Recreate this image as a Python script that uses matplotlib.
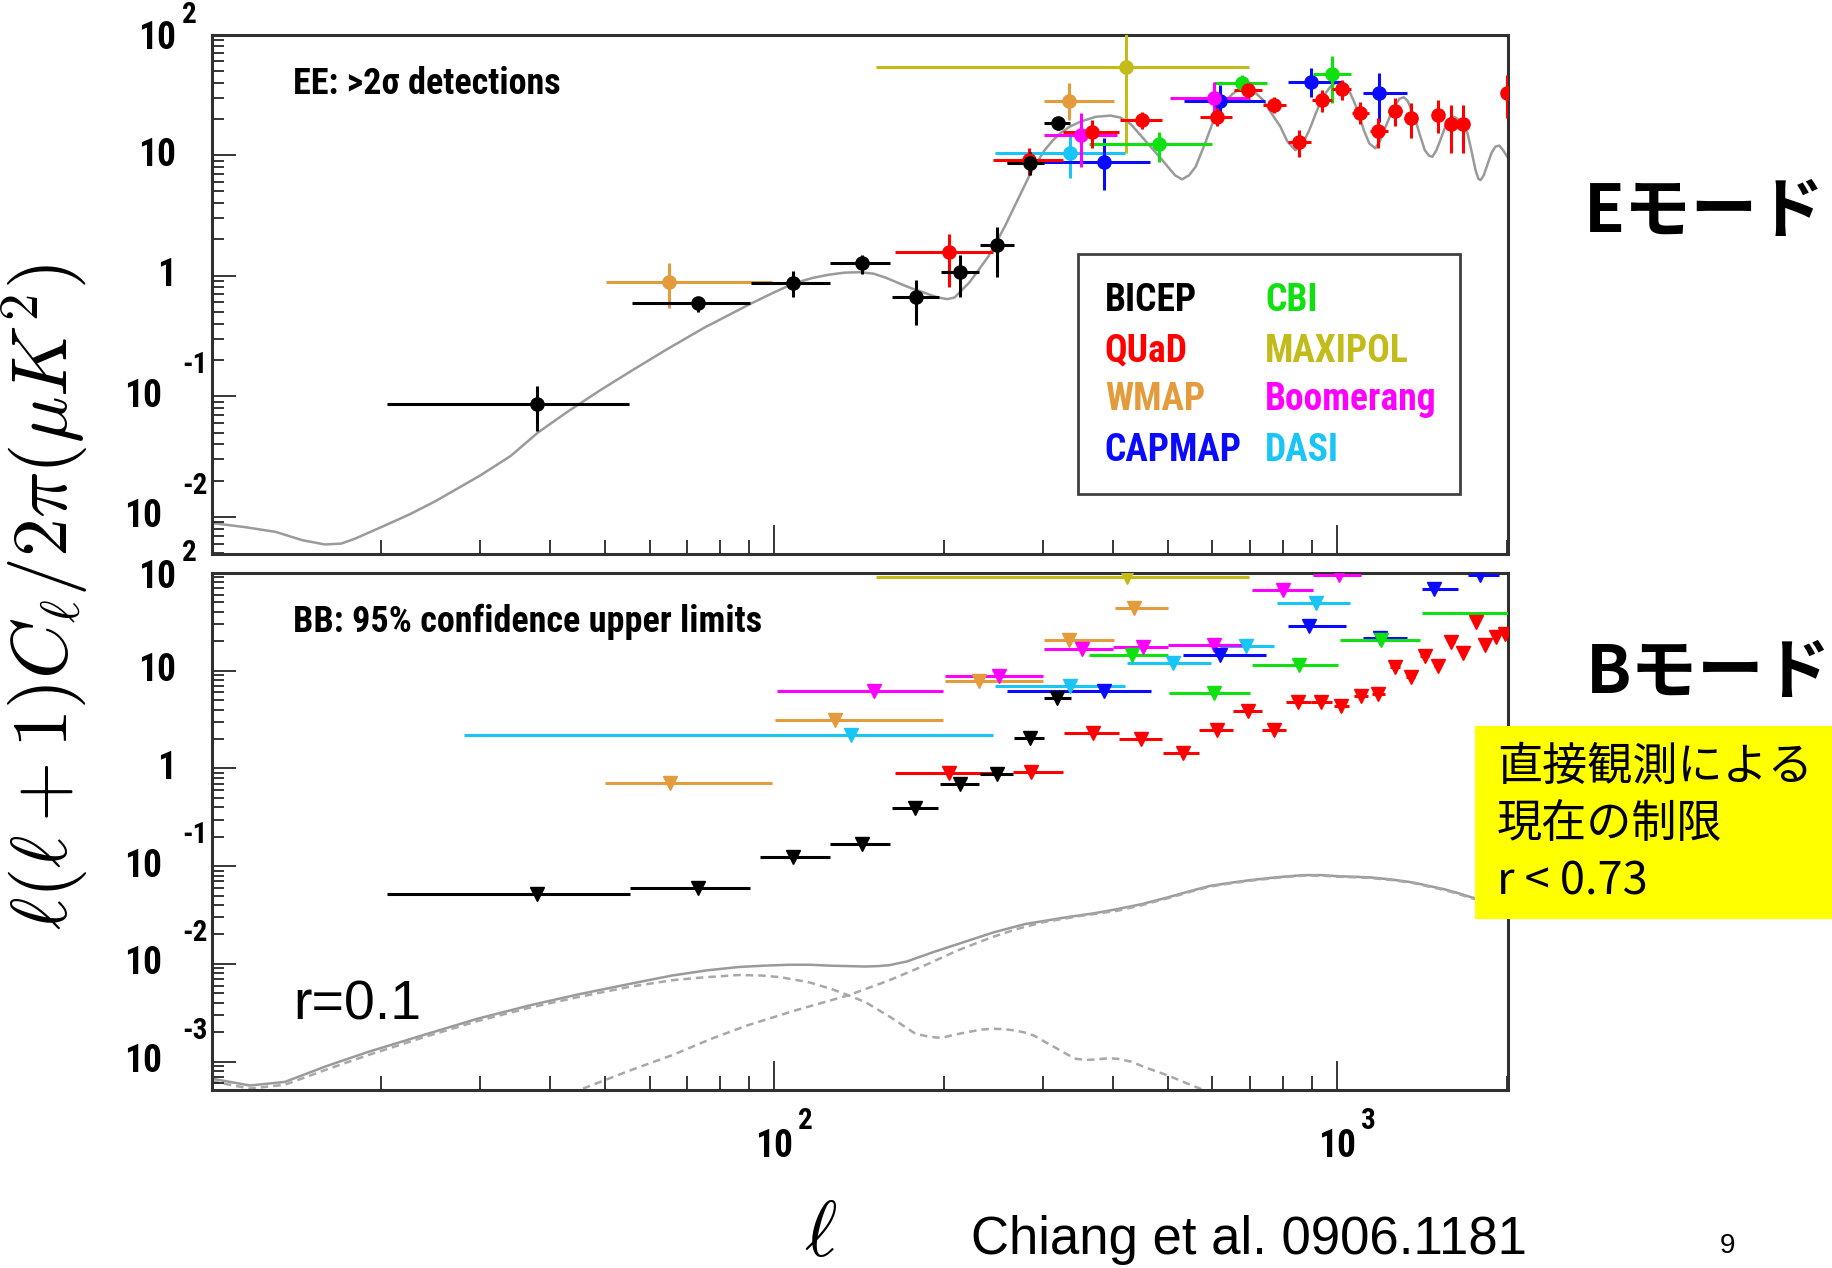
import os
import numpy as np
import matplotlib
matplotlib.use('Agg')
import matplotlib.pyplot as plt
from matplotlib import font_manager
from matplotlib.font_manager import FontProperties
from matplotlib.patches import Rectangle
from matplotlib.ticker import LogLocator, NullFormatter
from matplotlib.transforms import blended_transform_factory, offset_copy

plt.rcParams['mathtext.fontset'] = 'cm'
plain = ['Liberation Sans', 'DejaVu Sans']
jp = ['Noto Sans CJK JP', 'DejaVu Sans']
plt.rcParams['font.family'] = plain

# ---------------- data ----------------
# EE detections: (ell, ell_min, ell_max, D, D_low, D_high)
bicep_ee = [(37.9, 20.5, 55.2, 0.087, 0.052, 0.121), (73.1, 55.8, 90.6, 0.589, 0.50, 0.67),
            (108, 90.8, 125.7, 0.863, 0.67, 1.10), (143, 125.7, 160.6, 1.265, 1.04, 1.48),
            (178.7, 161.7, 195.7, 0.668, 0.389, 0.919), (213.8, 197.3, 230.5, 1.065, 0.668, 1.48),
            (248.6, 232, 266, 1.795, 0.98, 2.55), (284, 259, 300.8, 8.65, 6.84, 10.7),
            (318.5, 300.8, 335, 18.6, 16.2, 20.8)]
quad_ee = [(203.9, 163.9, 245, 1.56, 0.81, 2.24), (283, 245, 326, 9.2, 6.8, 11.5),
           (366.6, 326, 409, 15.6, 11.4, 19.5), (449.6, 411, 488, 19.5, 16.5, 23.0),
           (611.6, 571, 650, 20.8, 17.3, 27.7), (693, 655, 735, 34.7, 29.6, 40.7),
           (773, 738, 812, 26.0, 22.2, 30.6), (856, 816, 897, 12.9, 9.7, 16.2),
           (940, 902, 979, 28.7, 22.9, 34.7), (1020, 979, 1056, 35.4, 28.7, 42.0),
           (1099, 1063, 1137, 22.2, 18.3, 27.7), (1182, 1144, 1228, 15.85, 11.4, 20.2),
           (1265, 1232, 1305, 23.4, 17.3, 29.6), (1349, 1313, 1377, 20.2, 13.8, 26.9),
           (1510, 1480, 1540, 21.5, 15.2, 28.7), (1594, 1570, 1620, 18.0, 10.35, 26.1),
           (1675, 1650, 1700, 18.0, 10.35, 26.1), (2000, 1960, 2040, 33.0, 20.2, 46.0)]
wmap_ee = [(65.1, 50.2, 99, 0.89, 0.535, 1.265), (333, 300.8, 400.6, 28.1, 19.5, 39.4)]
capmap_ee = [(384.6, 259, 465, 8.81, 5.13, 13.8), (620, 533, 745, 28.3, 22.2, 38.1),
             (898.6, 816, 1020, 40.2, 30.6, 52.6), (1185, 1111, 1331, 33.0, 18.9, 48.3)]
cbi_ee = [(483, 361.6, 599, 12.36, 8.81, 15.6), (677, 603, 750, 39.4, 33.6, 46.2),
          (979, 907, 1056, 47.1, 26.9, 66.4)]
maxipol_ee = [(422, 151.7, 696, 54.1, 10.35, 160.0)]
boom_ee = [(351, 300.8, 406, 14.7, 8.0, 22.2), (603, 505, 700, 29.6, 22.2, 40.7)]
dasi_ee = [(334.5, 246.6, 420, 10.35, 6.42, 14.7)]

# BB 95% upper limits: (ell, ell_min, ell_max, D)
bicep_bb = [(37.9, 20.5, 55.5, 0.0518), (73.1, 55.5, 90.6, 0.0592), (108, 94.3, 125.4, 0.125),
            (143, 125.7, 160.6, 0.168), (177.9, 161.7, 195.6, 0.397), (213.3, 197.2, 230.5, 0.687),
            (248.6, 232, 265, 0.869), (284, 266, 301, 2.06), (317.8, 300.8, 336, 5.26)]
quad_bb = [(204.5, 163.9, 245, 0.904), (285.6, 265, 326, 0.925), (367.4, 326.8, 409, 2.31),
           (448.4, 409, 489, 2.02), (531.3, 489.6, 569, 1.445), (611.6, 569, 652, 2.5),
           (693, 652, 735, 3.85), (773, 735, 812, 2.46), (853, 812, 897, 4.75),
           (937, 897, 979, 4.75), (1017, 985, 1050, 4.32), (1102, 1070, 1135, 5.46),
           (1182, 1150, 1215, 5.78), (1265, 1240, 1290, 10.8), (1349, 1325, 1375, 8.63),
           (1430, 1405, 1455, 14.0), (1508, 1485, 1530, 11.25), (1594, 1570, 1615, 19.9),
           (1675, 1655, 1695, 15.2), (1760, 1740, 1780, 31.8), (1833, 1815, 1850, 18.4),
           (1910, 1890, 1930, 22.1), (1983, 1965, 2000, 23.9)]
wmap_bb = [(65.2, 50.1, 99.1, 0.715), (128.2, 100.3, 199.3, 3.16), (231, 201, 300, 7.78),
           (333, 300.8, 400.6, 20.7), (434.5, 403, 501, 43.6)]
capmap_bb = [(384.6, 259, 466, 6.15), (620, 531, 747, 14.6), (892, 816, 1037, 28.8),
             (1190, 1111, 1330, 21.6), (1485, 1411, 1635, 68.2), (1796, 1705, 1935, 95.4)]
cbi_bb = [(431, 361.6, 501, 14.6), (603, 502, 701, 5.93), (856, 706, 1002, 11.5),
          (1195, 1010, 1403, 20.7), (2300, 1411, 3000, 38.8)]
maxipol_bb = [(423, 151.7, 696, 91.7)]
boom_bb = [(150.4, 100.9, 199.3, 6.15), (250.6, 201, 300, 8.75), (351.8, 300.8, 400, 16.6),
           (451, 400, 501, 17.3), (603, 501, 701, 18.4), (802, 706, 905, 67.0),
           (1006, 907, 1103, 95.4)]
dasi_bb = [(136.8, 28.1, 245, 2.22), (334.5, 246.6, 420, 6.92), (510, 423, 596, 12.0),
           (688, 620, 773, 18.0), (917, 780, 1055, 49.8)]

# theory curves (read point by point)
ee_theory_l = [10, 11.5, 13, 14.5, 15.9, 17, 18, 20, 22.5, 25, 30, 34, 38, 43, 49, 56, 64, 75,
               91, 100, 108, 117, 125, 133, 142, 150, 158, 167, 176, 185, 195, 203, 209, 214,
               222, 230, 240, 249, 257, 265, 275, 285, 294, 302, 312, 322, 335, 350, 372, 395,
               412, 430, 448, 466, 485, 500, 515, 530, 545, 560, 580, 603, 625, 650, 682, 710,
               738, 765, 792, 815, 842, 865, 892, 915, 940, 972, 1000, 1025, 1050, 1070, 1091,
               1115, 1140, 1168, 1190, 1210, 1232, 1260, 1290, 1313, 1335, 1357, 1377, 1400,
               1430, 1455, 1475, 1500, 1530, 1560, 1590, 1611, 1635, 1660, 1703, 1730, 1760,
               1780, 1796, 1820, 1850, 1880, 1910, 1940, 1970, 2010]
ee_theory_d = [0.0089, 0.0082, 0.0075, 0.0064, 0.0059, 0.0060, 0.0066, 0.0082, 0.0105, 0.0135,
               0.022, 0.032, 0.050, 0.075, 0.112, 0.165, 0.241, 0.37, 0.59, 0.73, 0.86, 0.96,
               1.02, 1.06, 1.07, 1.04, 0.96, 0.86, 0.78, 0.72, 0.66, 0.64, 0.66, 0.74, 0.88,
               1.1, 1.45, 1.97, 2.6, 3.5, 5.0, 7.06, 9.0, 11.0, 13.2, 15.2, 17.3, 19.0, 20.8,
               21.3, 20.5, 18.0, 14.5, 11.7, 9.5, 8.0, 6.8, 6.3, 6.8, 8.0, 12.0, 19.5, 26.0,
               32.0, 37.5, 34.0, 28.7, 22.0, 17.3, 13.0, 11.0, 12.0, 16.2, 22.0, 30.0, 37.0,
               40.5, 40.0, 34.0, 28.0, 22.2, 16.0, 12.5, 11.4, 13.0, 16.0, 19.5, 25.0, 29.5,
               30.2, 28.0, 23.0, 19.5, 15.0, 11.0, 9.9, 9.7, 11.0, 14.0, 18.0, 20.5, 20.8,
               20.0, 18.0, 15.2, 11.0, 7.5, 6.4, 6.2, 6.8, 8.5, 10.5, 11.8, 12.0, 11.0, 9.5]

bb_total_l = [10, 11.7, 13.5, 16, 19, 24, 29.7, 37, 45, 55, 65.7, 76, 86.5, 96, 106, 116, 125,
              135, 145, 153, 160, 172, 190, 212, 245, 279, 330, 370, 407, 450, 500, 550, 595,
              650, 700, 780, 869, 940, 1000, 1070, 1145, 1250, 1359, 1450, 1550, 1640, 1731,
              1850, 2010]
bb_total_d = [0.00067, 0.00057, 0.00062, 0.0009, 0.00126, 0.0019, 0.00275, 0.0038, 0.0049,
              0.0062, 0.0076, 0.0086, 0.0093, 0.0096, 0.0098, 0.0098, 0.0096, 0.0095, 0.0094,
              0.0095, 0.0097, 0.0106, 0.013, 0.016, 0.021, 0.0256, 0.030, 0.033, 0.0364,
              0.041, 0.048, 0.056, 0.063, 0.068, 0.072, 0.077, 0.081, 0.081, 0.079, 0.078,
              0.0767, 0.073, 0.0683, 0.063, 0.058, 0.053, 0.048, 0.044, 0.040]
bb_tensor_l = [10, 11.7, 13.5, 16, 19, 24, 29.7, 37, 45, 55, 65.7, 75.3, 86.5, 95, 102.7, 115,
               126, 135, 145, 160, 170, 178, 188, 198, 210, 220, 232, 243, 255, 265, 277, 289,
               302, 315, 330, 343, 357, 370, 390, 407, 430, 450, 475, 501, 540, 575]
bb_tensor_d = [0.00063, 0.00053, 0.00058, 0.00083, 0.00117, 0.0018, 0.0026, 0.0036, 0.0046,
               0.0058, 0.0068, 0.0073, 0.0077, 0.0076, 0.0073, 0.0065, 0.00556, 0.0048,
               0.00407, 0.0029, 0.0023, 0.00193, 0.0018, 0.00175, 0.0019, 0.0020, 0.00212,
               0.00217, 0.00215, 0.0021, 0.002, 0.00185, 0.0016, 0.0014, 0.0012, 0.00107,
               0.00104, 0.00105, 0.00108, 0.00107, 0.001, 0.0009, 0.0008, 0.00072, 0.0006,
               0.00052]
bb_lens_l = [45.7, 55, 65.7, 77, 89.5, 110, 135, 160, 184.5, 212, 243, 270, 299, 350, 407,
             450, 500, 550, 595, 650, 700, 780, 869, 940, 1000, 1070, 1145, 1250, 1359, 1450,
             1550, 1640, 1731, 1850, 2010]
bb_lens_d = [0.00053, 0.0008, 0.00116, 0.0017, 0.00235, 0.0034, 0.00475, 0.0068, 0.0096,
             0.0138, 0.0187, 0.0228, 0.0266, 0.031, 0.035, 0.040, 0.047, 0.055, 0.062, 0.067,
             0.071, 0.076, 0.080, 0.080, 0.078, 0.077, 0.0757, 0.072, 0.0675, 0.062, 0.057,
             0.052, 0.047, 0.043, 0.039]

names_col1 = ['BICEP', 'QUaD', 'WMAP', 'CAPMAP']
names_col2 = ['CBI', 'MAXIPOL', 'Boomerang', 'DASI']
colors = {'BICEP': 'black', 'QUaD': '#ff0000', 'WMAP': '#e49b3c', 'CAPMAP': '#0a0aff',
          'CBI': '#10e010', 'MAXIPOL': '#c2bb1a', 'Boomerang': '#ff00ff', 'DASI': '#19c5f5'}
ee_sets = {'MAXIPOL': maxipol_ee, 'DASI': dasi_ee, 'WMAP': wmap_ee, 'CAPMAP': capmap_ee,
           'CBI': cbi_ee, 'Boomerang': boom_ee, 'QUaD': quad_ee, 'BICEP': bicep_ee}
bb_sets = {'DASI': dasi_bb, 'MAXIPOL': maxipol_bb, 'WMAP': wmap_bb, 'Boomerang': boom_bb,
           'CAPMAP': capmap_bb, 'CBI': cbi_bb, 'QUaD': quad_bb, 'BICEP': bicep_bb}


# find a narrow (condensed) sans font file, helvetica-narrow look of the original
def find_narrow(bold):
    prefs = ['liberation sans narrow', 'arial narrow', 'roboto condensed', 'noto sans',
             'dejavu sans', 'open sans', 'liberation sans', 'roboto']
    found = {}
    for f in font_manager.fontManager.ttflist:
        base = os.path.basename(f.fname).lower()
        nm = f.name.lower()
        if 'italic' in base or 'oblique' in base or f.style != 'normal':
            continue
        cond = ('narrow' in base or 'narrow' in nm or
                (('condensed' in base or 'condensed' in nm or f.stretch == 'condensed')
                 and 'semi' not in base and 'extra' not in base and 'ultra' not in base))
        if not cond:
            continue
        w = f.weight if isinstance(f.weight, int) else font_manager.weight_dict.get(f.weight, 400)
        if bold and w != 700:
            continue
        if not bold and w != 400:
            continue
        for p in prefs:
            if nm.startswith(p):
                found.setdefault(p, f.fname)
                break
    for p in prefs:
        if p in found:
            return found[p]
    return None


nb_file = find_narrow(True)
nr_file = find_narrow(False)


def nfont(size, bold=True):
    path = nb_file if bold else nr_file
    if path:
        return FontProperties(fname=path, size=size)
    # no narrow face installed: plain face, a bit smaller
    return FontProperties(family=plain, weight='bold' if bold else 'normal', size=size * 0.86)


# ---------------- figure ----------------
fig = plt.figure(figsize=(18.33, 12.68), dpi=100)
ax1 = fig.add_axes([0.1154, 0.5634, 0.7073, 0.4093])
ax2 = fig.add_axes([0.1154, 0.1404, 0.7073, 0.4077])

for ax in (ax1, ax2):
    ax.set_xscale('log')
    ax.set_yscale('log')
    ax.set_xlim(10, 2010)
    ax.xaxis.set_minor_locator(LogLocator(base=10, subs=np.arange(2, 10) * 1.0, numticks=20))
    ax.yaxis.set_minor_locator(LogLocator(base=10, subs=np.arange(2, 10) * 1.0, numticks=20))
    ax.xaxis.set_minor_formatter(NullFormatter())
    ax.yaxis.set_minor_formatter(NullFormatter())
    ax.tick_params(axis='x', which='major', direction='in', length=21, width=1.1,
                   top=False, labelbottom=False)
    ax.tick_params(axis='x', which='minor', direction='in', length=10, width=1.1, top=False)
    ax.tick_params(axis='y', which='major', direction='in', length=17.5, width=1.1,
                   right=False, labelleft=False)
    ax.tick_params(axis='y', which='minor', direction='in', length=8.5, width=1.1, right=False)
    for s in ax.spines.values():
        s.set_linewidth(2.2)
        s.set_color('#303030')

ax1.set_ylim(10 ** -2.305, 100)
ax2.set_ylim(10 ** -3.29, 100)
ax1.set_yticks([1e-2, 1e-1, 1, 10, 100])
ax2.set_yticks([1e-3, 1e-2, 1e-1, 1, 10, 100])
ax1.set_xticks([100, 1000])
ax2.set_xticks([100, 1000])


# ROOT-like labels: "10" with a raised exponent
def ylabels(ax, exps):
    tr = blended_transform_factory(ax.transAxes, ax.transData)
    for e in exps:
        if e == 0:
            ax.text(-0.0274, 1.0, '1', transform=tr, ha='right', va='center',
                    fontproperties=nfont(27), clip_on=False)
            continue
        base_x = -0.0274 if e > 0 else -0.0382
        down = -4 if e == 2 else 0
        raise_px = 20 if e == 2 else 31
        ax.text(base_x, 10.0 ** e, '10', transform=offset_copy(tr, fig=fig, y=down, units='dots'),
                ha='right', va='center', fontproperties=nfont(27), clip_on=False)
        if e != 1:
            ax.text(-0.0228, 10.0 ** e, str(e),
                    transform=offset_copy(tr, fig=fig, y=raise_px, units='dots'),
                    ha='left', va='center', fontproperties=nfont(21), clip_on=False)


ylabels(ax1, [-2, -1, 0, 1, 2])
ylabels(ax2, [-3, -2, -1, 0, 1, 2])

trx = blended_transform_factory(ax2.transData, ax2.transAxes)
trx_up = offset_copy(trx, fig=fig, x=24, y=0, units='dots')
for e in [2, 3]:
    ax2.text(10.0 ** e, -0.110, '10', transform=trx, ha='center', va='center',
             fontproperties=nfont(27), clip_on=False)
    ax2.text(10.0 ** e, -0.060, str(e), transform=trx_up, ha='left', va='center',
             fontproperties=nfont(21), clip_on=False)

# EE panel
ax1.plot(ee_theory_l, ee_theory_d, color='#9a9a9a', lw=1.8, zorder=1)
for name, rows in ee_sets.items():
    a = np.array(rows).T
    ax1.errorbar(a[0], a[3], xerr=[a[0] - a[1], a[2] - a[0]], yerr=[a[3] - a[4], a[5] - a[3]],
                 fmt='o', color=colors[name], ms=9.5, elinewidth=2.2, capsize=0, zorder=3)

ax1.text(0.0629, 0.905, 'EE: >2\u03c3 detections', transform=ax1.transAxes,
         fontproperties=nfont(26), ha='left', va='center')

# legend box
ax1.add_patch(Rectangle((0.668, 0.115), 0.295, 0.462, transform=ax1.transAxes,
                        facecolor='white', edgecolor='#404040', lw=2, zorder=5))
rows_y = [0.4886, 0.390, 0.296, 0.1996]
for i in range(4):
    ax1.text(0.689, rows_y[i], names_col1[i], color=colors[names_col1[i]],
             fontproperties=nfont(27), transform=ax1.transAxes, ha='left', va='center', zorder=6)
    ax1.text(0.8126, rows_y[i], names_col2[i], color=colors[names_col2[i]],
             fontproperties=nfont(27), transform=ax1.transAxes, ha='left', va='center', zorder=6)

# BB panel
ax2.plot(bb_total_l, bb_total_d, color='#9a9a9a', lw=1.8, zorder=1)
ax2.plot(bb_tensor_l, bb_tensor_d, color='#a8a8a8', lw=1.8, ls=(0, (3, 2)), zorder=1)
ax2.plot(bb_lens_l, bb_lens_d, color='#a8a8a8', lw=1.8, ls=(0, (3, 2)), zorder=1)
for name, rows in bb_sets.items():
    a = np.array(rows).T
    ax2.errorbar(a[0], a[3], xerr=[a[0] - a[1], a[2] - a[0]], fmt='v', color=colors[name],
                 ms=9.5, elinewidth=2.2, capsize=0, zorder=3)

ax2.text(0.0629, 0.905, 'BB: 95% confidence upper limits', transform=ax2.transAxes,
         fontproperties=nfont(26), ha='left', va='center')
ax2.text(0.0629, 0.164, 'r=0.1', transform=ax2.transAxes, fontsize=40, family=plain,
         ha='left', va='center')

# axis labels
fig.text(0.0246, 0.529, r'$\ell(\ell+1)C_\ell/2\pi(\mu K^2)$', rotation=90, fontsize=56,
         ha='center', va='center')
fig.text(0.4474, 0.026, r'$\ell$', fontsize=56, ha='center', va='center')
fig.text(0.5297, 0.011, 'Chiang et al. 0906.1181', fontsize=38, family=plain,
         ha='left', va='baseline')
fig.text(0.9427, 0.0173, '9', fontsize=20, family=plain, ha='center', va='center')

# slide annotations
fig.text(0.8640, 0.8328, 'Eモード', family=jp, weight='bold', fontsize=48, ha='left', va='center')
fig.text(0.8650, 0.4692, 'Bモード', family=jp, weight='bold', fontsize=48, ha='left', va='center')
fig.patches.append(Rectangle((0.8047, 0.2752), 0.1953, 0.1522, transform=fig.transFigure,
                             facecolor='#ffff00', edgecolor='none', zorder=5))
box_lines = ['直接観測による', '現在の制限', 'r < 0.73']
box_y = [0.3951, 0.3502, 0.3052]
for txt, y in zip(box_lines, box_y):
    fig.text(0.8167, y, txt, family=jp, fontsize=32.5, ha='left', va='center', zorder=6)

fig.savefig('out.png', dpi=100)
